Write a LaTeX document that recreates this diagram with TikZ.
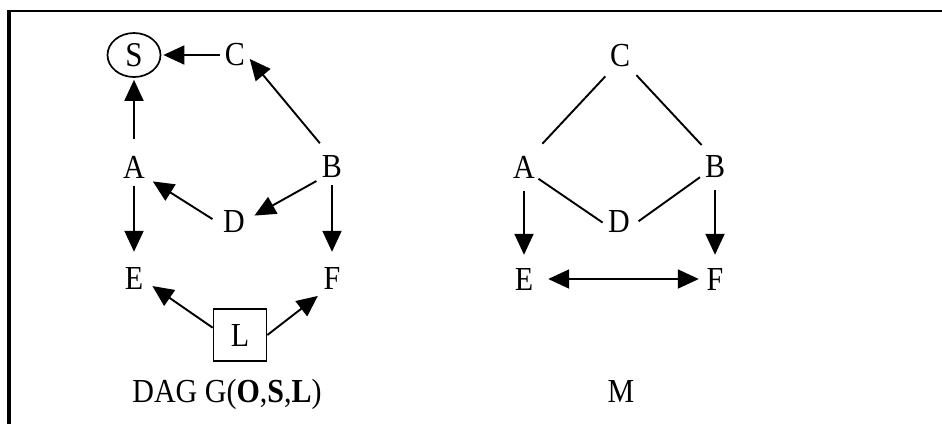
\documentclass[tikz,border=0pt]{standalone}
\usepackage{fontspec}
\usepackage{graphicx}
\setmainfont{Liberation Serif}
\usetikzlibrary{arrows.meta,shapes.geometric}
\newcommand{\tallt}[1]{\scalebox{1}[1.12]{#1}}
\tikzset{
  lbl/.style={circle, inner sep=0pt, minimum size=30pt, font=\fontsize{30}{36}\selectfont},
  captext/.style={anchor=base, inner sep=0pt, font=\fontsize{30}{36}\selectfont},
  edgeline/.style={line width=1.9pt},
  arr/.style={edgeline, -{Triangle[length=21pt,width=19pt]}},
  darr/.style={edgeline, {Triangle[length=21pt,width=19pt]}-{Triangle[length=21pt,width=19pt]}},
}
\begin{document}
\begin{tikzpicture}[x=1pt,y=-1pt]
\useasboundingbox (0,0) rectangle (942,424);
% frame
\coordinate (f1) at (942,11);
\coordinate (f2) at (9,11);
\coordinate (f3) at (9,424);
\draw[line width=2.3pt] (f1) -- (7.3,11);
\draw[line width=3.5pt] (f2) -- (f3);

% left graph
\node[ellipse, draw, line width=1.7pt, minimum width=53pt, minimum height=44pt, inner sep=0pt,
      font=\fontsize{31}{36}\selectfont] (S) at (134,55) {\tallt{S}};
\node[lbl] (C) at (235,55) {\tallt{C}};
\node[lbl] (A) at (134,167) {\tallt{A}};
\node[lbl] (B) at (332,167) {\tallt{B}};
\node[lbl] (D) at (234,222) {\tallt{D}};
\node[lbl] (E) at (134,278) {\tallt{E}};
\node[lbl] (F) at (332,278) {\tallt{F}};
\node[draw, line width=1.7pt, minimum width=53pt, minimum height=52pt, inner sep=0pt,
      font=\fontsize{30}{36}\selectfont] (L) at (240,335) {\tallt{L}};
\node[captext] (g) at (227,402) {\tallt{DAG G(\textbf{O},\textbf{S},\textbf{L})}};

\draw[arr, shorten >=2pt] (C) -- (S);
\draw[arr, shorten <=12pt, shorten >=2pt] (A) -- (S);
\draw[arr, shorten <=12pt] (B.107) -- (C.-15);
\draw[arr, shorten <=6pt, shorten >=6pt] (B.227) -- (D.13);
\draw[arr, shorten <=7pt, shorten >=8pt] (D.183) -- (A.-40);
\draw[arr, shorten <=3pt, shorten >=11pt] (A) -- (E);
\draw[arr, shorten <=3pt, shorten >=11pt] (B) -- (F);
\draw[arr, shorten >=5pt] (L.165) -- (E.-20);
\draw[arr, shorten >=8pt] (L.east) -- (F.239);

% right graph
\node[lbl] (C2) at (620,56) {\tallt{C}};
\node[lbl] (A2) at (524,167) {\tallt{A}};
\node[lbl] (B2) at (715,167) {\tallt{B}};
\node[lbl] (D2) at (619,222) {\tallt{D}};
\node[lbl] (E2) at (524,279) {\tallt{E}};
\node[lbl] (F2) at (715,279) {\tallt{F}};
\node[captext] (m) at (621,402) {\tallt{M}};

\draw[edgeline, shorten <=10pt, shorten >=14pt] (C2.239) -- (A2.56);
\draw[edgeline, shorten <=10pt, shorten >=11pt] (C2.-51) -- (B2.113);
\draw[edgeline, shorten <=3pt, shorten >=1pt] (A2.-40) -- (D2.184);
\draw[edgeline, shorten <=3pt, shorten >=5pt] (B2.214) -- (D2.-8);
\draw[arr, shorten <=8pt, shorten >=9pt] (A2) -- (E2);
\draw[arr, shorten <=8pt, shorten >=9pt] (B2) -- (F2);
\draw[darr, shorten <=9pt, shorten >=1pt] (E2) -- (F2);
\end{tikzpicture}
\end{document}
